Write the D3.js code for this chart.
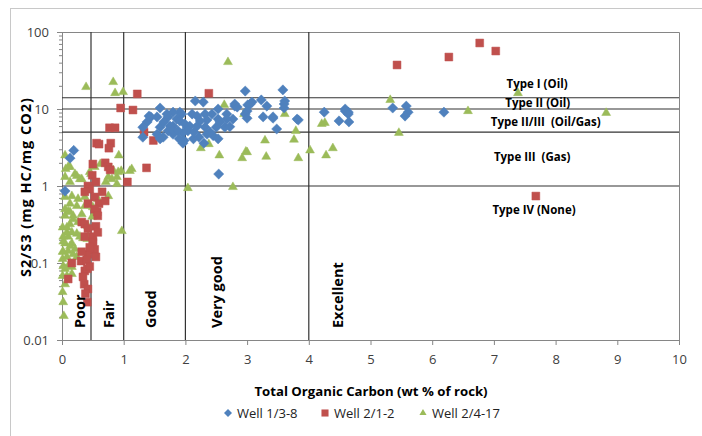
<!DOCTYPE html>
<html>
<head>
<style>
    body { margin: 0; background: #fff; }
    svg text { font-family: "Open Sans", sans-serif; }
    .tick text { font-size: 13px; fill: #404040; }
    .axis path, .axis line { stroke: #868686; }
    .lbl { font-weight: bold; font-size: 11.5px; fill: #000; }
    .cls { font-weight: bold; font-size: 14.5px; fill: #000; }
</style>
<script src="https://d3js.org/d3.v7.min.js"></script>
</head>
<body>
<svg width="702" height="436"></svg>
<script>
// Well 1/3-8 : [TOC, S2/S3]
var well138 = [
    [0.19,2.9],[0.13,2.3],[0.05,0.86],[2.54,1.43],
    [2.97,17.1],[3.58,17.7],[3.61,12.7],[3.60,11.6],[3.23,13.1],[3.32,10.9],[3.26,7.9],[3.42,7.9],
    [3.42,7.6],[3.81,7.4],[3.48,5.5],[3.60,10.3],[3.83,7.2],
    [4.59,10.0],[4.64,9.1],[4.65,6.8],[4.49,7.0],[4.25,9.1],[4.59,9.4],[4.64,8.6],
    [5.36,10.3],[5.58,10.9],[5.61,9.1],[5.56,8.1],[6.19,9.1],
    [3.01,11.3],[3.08,12.3],[3.05,11.6],[3.0,9.4],[2.80,10.9],[2.80,11.6],[2.84,10.6],[2.97,8.6],
    [3.0,7.6],[2.67,8.6],[2.77,7.4],[2.64,5.8],[2.50,5.8],[2.53,10.0],[2.53,7.4],[2.29,12.3],
    [2.16,12.7],[2.11,8.6],[2.19,8.1],[2.32,8.6],[2.35,7.2],[2.32,5.8],[2.35,4.7],[2.30,3.6],
    [2.22,4.3],[2.13,4.1],[2.03,5.8],[1.96,4.9],[1.98,3.9],[1.90,4.1],[1.94,8.6],[1.91,9.1],
    [1.86,7.4],[1.80,6.0],[1.72,5.2],[1.80,4.7],[1.64,4.3],[1.54,4.7],[1.59,4.1],[1.59,5.8],
    [1.65,6.8],[1.72,7.9],[1.75,6.0],[1.54,7.9],[1.59,10.3],[1.44,7.9],[1.38,6.8],[1.31,5.8],
    [1.31,4.3],[1.41,8.1],[1.91,7.0],[1.99,6.4],[2.07,6.0],[2.19,6.0],[2.24,7.0],[1.80,9.1],
    [1.70,8.6],[1.80,5.2],[1.88,5.2],[2.04,5.2],[2.14,5.0],[2.45,4.5],[2.53,4.1],[2.40,5.0],
    [2.67,7.4],[2.56,6.8],[2.43,8.6],[2.72,5.9],[1.96,3.6]
];

// Well 2/1-2
var well212 = [
    [5.43,37.3],[6.27,47.3],[6.77,72],[7.03,56.6],[7.68,0.74],
    [1.22,15.7],[2.38,16.0],[0.95,10.3],[1.15,9.7],[0.77,5.7],[0.86,5.7],[1.33,5.0],[1.48,3.9],
    [0.56,3.6],[0.60,3.5],[0.79,3.6],[0.76,3.1],[0.50,1.93],[0.70,2.0],[0.75,1.77],[1.37,1.72],
    [1.06,1.13],[0.78,1.62],[0.42,1.0],[0.49,1.38],[0.55,1.13],
    [0.45,0.91],[0.65,0.84],[0.53,0.72],[0.60,0.59],[0.37,0.84],[0.70,0.64],[0.42,0.59],
    [0.57,0.46],[0.53,0.50],[0.58,0.41],[0.32,0.34],[0.37,0.32],[0.42,0.28],[0.37,0.22],
    [0.50,0.22],[0.50,0.19],[0.50,0.18],[0.42,0.13],[0.32,0.14],[0.31,0.106],[0.16,0.10],
    [0.37,0.079],[0.41,0.084],[0.34,0.066],[0.10,0.062],[0.36,0.053],[0.42,0.046],[0.41,0.031],
    [0.53,0.15],[0.55,0.12],[0.55,0.30],[0.58,0.25],[0.45,0.16],[0.40,0.11],[0.45,0.09],
    [0.38,0.04]
];

// Well 2/4-17
var well2417 = [
    [2.69,40.7],[0.39,19.3],[0.83,22.4],[0.86,16.1],[0.99,16.6],[2.63,11.3],[2.95,8.6],[3.61,8.6],
    [3.79,5.2],[4.21,6.4],[4.26,6.6],[3.76,4.0],[4.02,2.9],[4.39,3.1],[4.28,2.5],[3.83,2.3],
    [3.29,3.9],[3.31,2.4],[2.98,2.8],[3.0,2.75],[2.92,2.3],[2.55,2.5],[2.38,3.5],[2.25,3.1],
    [2.04,0.94],[2.77,0.97],[5.32,13.1],[5.46,4.9],[7.39,16.1],[6.58,9.4],[8.82,8.9],[0.97,0.26],
    [0.92,2.5],[1.13,1.66],[0.96,1.57],[0.83,1.6],[0.89,1.31],[0.75,1.31],[0.75,0.74],[0.62,1.93],
    [0.53,1.77],[0.71,1.13],[0.05,2.5],[0.13,1.77],[0.06,1.66],[0.21,1.43],[0.05,1.31],[0.32,1.23],
    [0.47,1.43],[0.10,1.77],[0.24,1.35],[0.45,1.52],[0.91,1.52],[1.10,1.57],[0.89,1.06],[0.81,1.23],
    [0.13,1.13],[0.29,1.23],
    [0.05,0.72],[0.16,0.74],[0.26,0.68],[0.37,0.72],[0.13,0.59],[0.24,0.55],[0.37,0.55],[0.10,0.47],
    [0.05,0.41],[0.18,0.41],[0.32,0.43],[0.49,0.40],[0.13,0.32],[0.26,0.34],[0.42,0.30],[0.08,0.25],
    [0.24,0.24],[0.42,0.22],[0.58,0.68],[0.50,0.53],[0.02,0.22],[0.10,0.22],[0.05,0.18],[0.16,0.18],
    [0.02,0.14],[0.10,0.143],[0.01,0.113],[0.08,0.12],[0.18,0.13],[0.02,0.091],[0.10,0.091],
    [0.01,0.068],[0.08,0.068],[0.16,0.072],[0.05,0.053],[0.01,0.042],[0.02,0.031],[0.03,0.0205],
    [0.34,0.21],[0.41,0.205],[0.05,0.50],[0.13,0.46],[0.18,0.37],[0.01,0.29],[0.08,0.29],
    [0.16,0.25],[0.29,0.22],[0.02,0.19],[0.13,0.166],[0.21,0.152],[0.01,0.14],[0.24,0.12],
    [0.16,0.089],[0.05,0.084]
];

// kerogen type boundaries (S2/S3) and TOC quality boundaries
var typeLines = [14, 10, 5, 1];
var tocLines = [0.47, 1, 2, 4];

var typeNames = ["Type I (Oil)", "Type II (Oil)", "Type II/III  (Oil/Gas)", "Type III  (Gas)", "Type IV (None)"];
var typeX = [7.70, 7.71, 7.84, 7.62, 7.65];
var typeY = [21.7, 12.3, 6.78, 2.45, 0.50];

var qualNames = ["Poor", "Fair", "Good", "Very good", "Excellent"];
var qualX = [0.29, 0.75, 1.43, 2.5, 4.46];
var qualY = 0.0143;

var xTicks = [0,1,2,3,4,5,6,7,8,9,10];
var yTicks = [0.01, 0.1, 1, 10, 100];

var svg = d3.select("svg");

// outer chart border
svg.append("rect").attr("x", 10.5).attr("y", 8.5).attr("width", 720).attr("height", 460)
   .attr("fill", "none").attr("stroke", "#c8c8c8");

var x = d3.scaleLinear().domain([0, 10]).range([62, 679]);
var y = d3.scaleLog().domain([0.01, 100]).range([340, 32]);

// plot border top/right
svg.append("path")
   .attr("d", "M" + x(0) + "," + (y(100) + 0.5) + "H" + (x(10) + 0.5) + "V" + y(0.01))
   .attr("fill", "none").attr("stroke", "#868686");

// minor log ticks
var minor = [];
[0.01, 0.1, 1, 10].forEach(function(d) { for (var k = 2; k < 10; k++) minor.push(d * k); });
svg.append("g").attr("class", "axis").attr("transform", "translate(" + x(0) + ",0)")
   .call(d3.axisLeft(y).tickValues(minor).tickSize(3).tickFormat(""))
   .call(function(g) { g.select(".domain").remove(); });

svg.append("g").attr("class", "axis").attr("transform", "translate(" + x(0) + ",0)")
   .call(d3.axisLeft(y).tickValues(yTicks).tickSize(5).tickPadding(8)
         .tickFormat(function(d) { return d >= 1 ? d3.format("d")(d) : String(d); }));

svg.append("g").attr("class", "axis").attr("transform", "translate(0," + y(0.01) + ")")
   .call(d3.axisBottom(x).tickValues(xTicks).tickSize(5).tickPadding(10).tickFormat(d3.format("d")));

svg.selectAll(".axis .domain").attr("stroke", "#868686");

// boundary lines
svg.append("g").selectAll("line").data(typeLines).enter().append("line")
   .attr("x1", x(0)).attr("x2", x(10))
   .attr("y1", function(d) { return y(d); }).attr("y2", function(d) { return y(d); })
   .attr("stroke", "#333").attr("stroke-width", 1.2);

svg.append("g").selectAll("line").data(tocLines).enter().append("line")
   .attr("x1", function(d) { return x(d); }).attr("x2", function(d) { return x(d); })
   .attr("y1", y(100)).attr("y2", y(0.01))
   .attr("stroke", "#333").attr("stroke-width", 1.2);

// Excel-style square diamond
var squareDiamond = {
    draw: function(ctx, size) {
        var r = Math.sqrt(size / 2);
        ctx.moveTo(0, -r); ctx.lineTo(r, 0); ctx.lineTo(0, r); ctx.lineTo(-r, 0); ctx.closePath();
    }
};

var diamond = d3.symbol().type(squareDiamond).size(52);
var square = d3.symbol().type(d3.symbolSquare).size(62);
var tri = d3.symbol().type(d3.symbolTriangle).size(34);

function plot(data, sym, fill) {
    svg.append("g").selectAll("path").data(data).enter().append("path")
       .attr("d", sym)
       .attr("transform", function(d) { return "translate(" + x(d[0]) + "," + y(d[1]) + ")"; })
       .attr("fill", fill).attr("stroke", fill).attr("stroke-opacity", 0.5).attr("stroke-width", 1);
}
plot(well2417, tri, "#9BBB59");
plot(well212, square, "#C0504D");
plot(well138, diamond, "#4F81BD");

// type labels
svg.append("g").selectAll("text").data(typeNames).enter().append("text")
   .attr("class", "lbl")
   .attr("x", function(d, i) { return x(typeX[i]); })
   .attr("y", function(d, i) { return y(typeY[i]); })
   .attr("text-anchor", "middle").attr("dominant-baseline", "central")
   .style("white-space", "pre")
   .text(function(d) { return d; });

// TOC quality labels
svg.append("g").selectAll("text").data(qualNames).enter().append("text")
   .attr("class", "cls")
   .attr("transform", function(d, i) { return "translate(" + x(qualX[i]) + "," + y(qualY) + ") rotate(-90)"; })
   .attr("dominant-baseline", "central")
   .text(function(d) { return d; });

// axis titles
svg.append("text").attr("x", 371).attr("y", 391)
   .attr("text-anchor", "middle").attr("dominant-baseline", "central")
   .style("font-weight", "bold").style("font-size", "13.2px")
   .text("Total Organic Carbon (wt % of rock)");

svg.append("text").attr("transform", "translate(25,187) rotate(-90)")
   .attr("text-anchor", "middle").attr("dominant-baseline", "central")
   .style("font-weight", "bold").style("font-size", "14.5px").style("letter-spacing", "1px")
   .text("S2/S3 (mg HC/mg CO2)");

// legend
var legNames = ["Well 1/3-8", "Well 2/1-2", "Well 2/4-17"];
var legX = [228, 325, 423];
var legSym = [d3.symbol().type(squareDiamond).size(32), d3.symbol().type(d3.symbolSquare).size(50), d3.symbol().type(d3.symbolTriangle).size(22)];
var legCol = ["#4F81BD", "#C0504D", "#9BBB59"];
legNames.forEach(function(n, i) {
    svg.append("path").attr("d", legSym[i]).attr("transform", "translate(" + legX[i] + ",413)").attr("fill", legCol[i]);
    svg.append("text").attr("x", legX[i] + 9).attr("y", 413).attr("dominant-baseline", "central")
       .style("font-size", "13px").style("fill", "#222").text(n);
});
</script>
</body>
</html>
